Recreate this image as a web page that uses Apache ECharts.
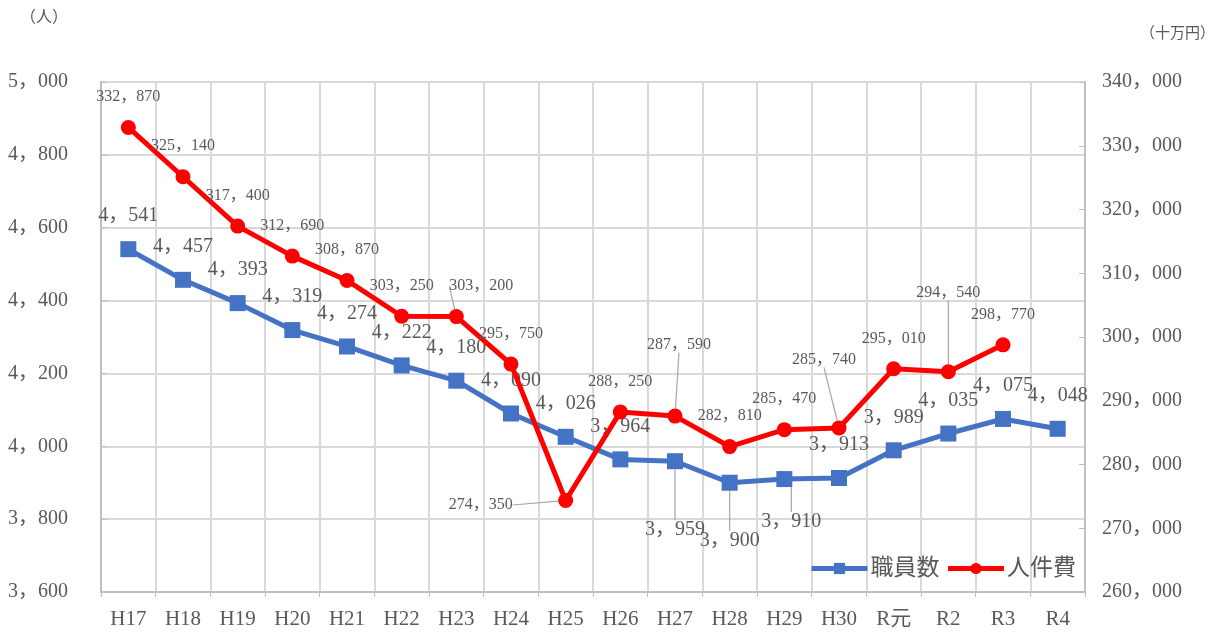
<!DOCTYPE html>
<html>
<head>
<meta charset="utf-8">
<script src="https://cdn.jsdelivr.net/npm/echarts@6/dist/echarts.min.js"></script>
<style>
  html, body { margin: 0; padding: 0; background: #fff; }
</style>
</head>
<body>
<div id="myChart" style="width:1225px;height:635px;"></div>
<script>
// データ
var years = ['H17', 'H18', 'H19', 'H20', 'H21', 'H22', 'H23', 'H24', 'H25', 'H26',
  'H27', 'H28', 'H29', 'H30', 'R元', 'R2', 'R3', 'R4'];
var staffCount = [4541, 4457, 4393, 4319, 4274, 4222, 4180, 4090, 4026, 3964,
  3959, 3900, 3910, 3913, 3989, 4035, 4075, 4048];
var personnelCost = [332870, 325140, 317400, 312690, 308870, 303250, 303200, 295750, 274350, 288250,
  287590, 282810, 285470, 285740, 295010, 294540, 298770, null];
var leftTicks = [3600, 5000, 200];
var rightTicks = [260000, 340000, 10000];

// 引き出し線付きラベルのずらし量
var staffMoves = { 10: [0, 102], 11: [0, 91], 12: [7, 76] };
var costMoves = { 6: [25, 0], 8: [-85, 35], 10: [4, -41], 13: [-15, -38], 15: [0, -49] };

var FONT = '"Liberation Serif", "Noto Sans CJK JP", serif';
var TXT = '#595959';

// 全角カンマ区切り
function fmt(v) {
  return String(v).replace(/\B(?=(\d{3})+(?!\d))/g, '，');
}

function buildData(values, moves) {
  return values.map(function (v, i) {
    if (moves[i]) {
      return { value: v, labelLine: { show: true } };
    }
    return v;
  });
}

function layoutBy(seriesIndex, moves) {
  return function (params) {
    if (params.seriesIndex !== seriesIndex) return {};
    var m = moves[params.dataIndex];
    if (!m) return {};
    return { dx: m[0], dy: m[1] };
  };
}

var myChart = echarts.init(document.getElementById('myChart'));
var option = {
  animation: false,
  textStyle: { fontFamily: FONT },
  grid: { left: 101, right: 140, top: 82, bottom: 43 },
  legend: {
    right: 144,
    bottom: 50,
    itemWidth: 56,
    itemHeight: 14,
    itemGap: 6,
    textStyle: { fontFamily: FONT, fontSize: 23, color: TXT, padding: [0, 0, 0, -2] },
    data: [
      { name: '職員数', lineStyle: { width: 5 } },
      { name: '人件費', lineStyle: { width: 5 } }
    ]
  },
  graphic: [
    { type: 'text', left: 20, top: 10, style: { text: '（人）', font: '16px ' + FONT, fill: TXT } },
    { type: 'text', left: 1140, top: 27, style: { text: '（十万円）', font: '15px ' + FONT, fill: TXT } }
  ],
  xAxis: {
    type: 'category',
    data: years,
    boundaryGap: true,
    axisLine: { lineStyle: { color: '#bfbfbf', width: 2 } },
    axisTick: { show: true, length: 5, lineStyle: { color: '#bfbfbf' } },
    axisLabel: { fontSize: 21, color: TXT, margin: 17, fontFamily: FONT },
    splitLine: { show: true, lineStyle: { color: '#d9d9d9', width: 2 } }
  },
  yAxis: [
    {
      type: 'value',
      min: leftTicks[0], max: leftTicks[1], interval: leftTicks[2],
      axisLine: { show: true, lineStyle: { color: '#bfbfbf', width: 2 } },
      axisTick: { show: true, inside: true, length: 6, lineStyle: { color: '#bfbfbf' } },
      axisLabel: { fontSize: 20, color: TXT, margin: 33, fontFamily: FONT, formatter: fmt },
      splitLine: { show: true, lineStyle: { color: '#d9d9d9', width: 2 } }
    },
    {
      type: 'value',
      min: rightTicks[0], max: rightTicks[1], interval: rightTicks[2],
      axisLine: { show: true, lineStyle: { color: '#bfbfbf', width: 2 } },
      axisTick: { show: true, inside: true, length: 6, lineStyle: { color: '#bfbfbf' } },
      axisLabel: { fontSize: 20, color: TXT, margin: 17, fontFamily: FONT, formatter: fmt },
      splitLine: { show: false }
    }
  ],
  series: [
    {
      name: '職員数',
      type: 'line',
      yAxisIndex: 0,
      data: buildData(staffCount, staffMoves),
      symbol: 'rect',
      symbolSize: 16,
      lineStyle: { width: 5, color: '#4472c4' },
      itemStyle: { color: '#4472c4' },
      label: {
        show: true, position: 'top', distance: 15,
        fontSize: 20, color: TXT, fontFamily: FONT,
        formatter: function (p) { return fmt(p.value); }
      },
      labelLine: { show: false, lineStyle: { color: '#a6a6a6', width: 1.2 } },
      labelLayout: layoutBy(0, staffMoves),
      z: 2
    },
    {
      name: '人件費',
      type: 'line',
      yAxisIndex: 1,
      data: buildData(personnelCost, costMoves),
      symbol: 'circle',
      symbolSize: 15,
      lineStyle: { width: 5, color: '#ff0000' },
      itemStyle: { color: '#ff0000' },
      label: {
        show: true, position: 'top', distance: 15,
        fontSize: 16, color: TXT, fontFamily: FONT,
        formatter: function (p) { return fmt(p.value); }
      },
      labelLine: { show: false, lineStyle: { color: '#a6a6a6', width: 1.2 } },
      labelLayout: layoutBy(1, costMoves),
      z: 3
    }
  ]
};
myChart.setOption(option);
window.addEventListener('resize', myChart.resize);
</script>
</body>
</html>
